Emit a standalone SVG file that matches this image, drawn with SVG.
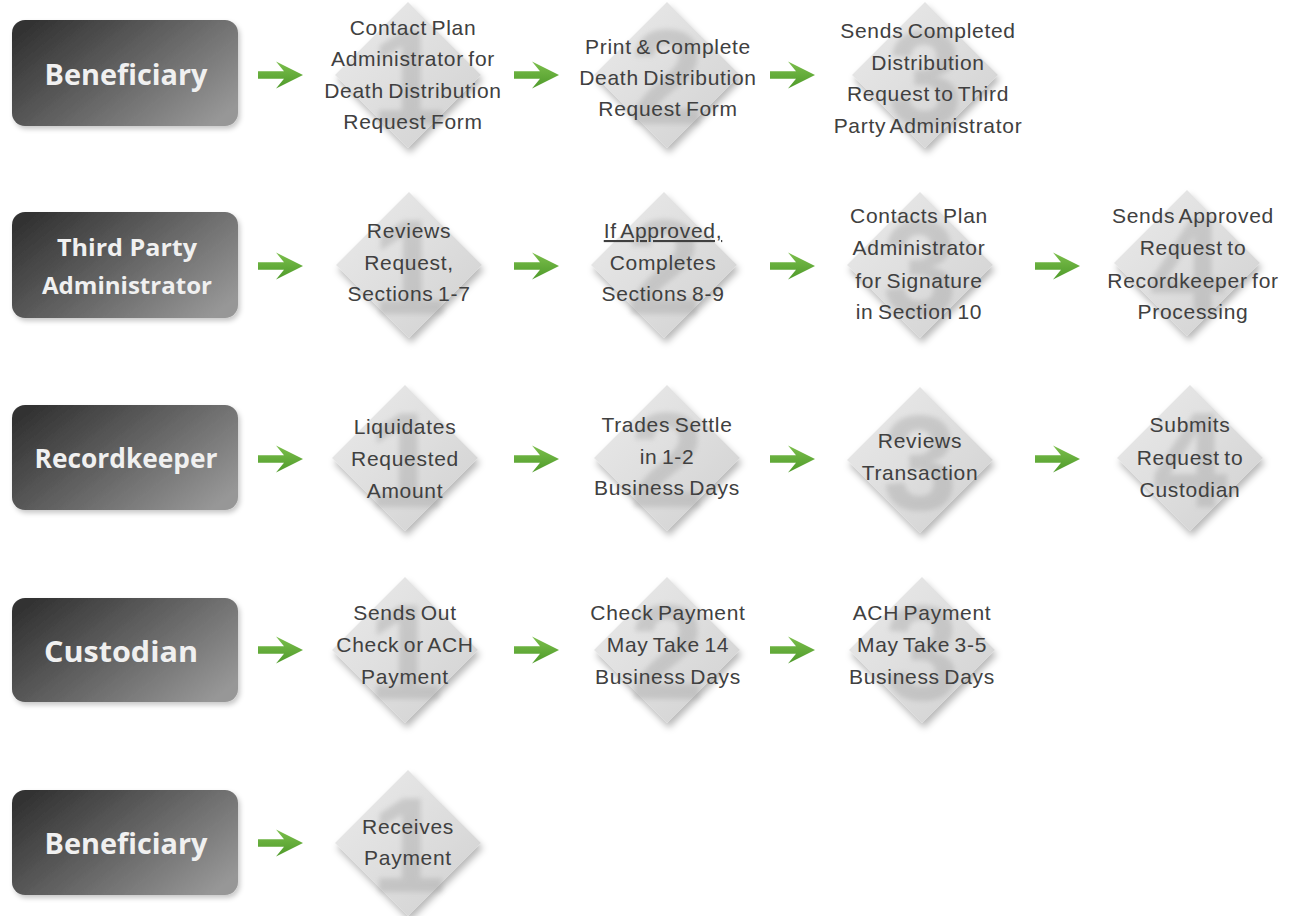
<svg xmlns="http://www.w3.org/2000/svg" xmlns:xlink="http://www.w3.org/1999/xlink" width="1299" height="916" viewBox="0 0 1299 916">
<style>
.box{fill:url(#boxGrad);filter:url(#boxShadow)}
.lbl{font-family:"Open Sans","Liberation Sans",sans-serif;font-weight:700;fill:#f0f0f0;text-anchor:middle}
.dia{fill:url(#diaGrad);filter:url(#diaShadow)}
.num{font-family:"Liberation Sans",sans-serif;font-weight:700;font-size:135px;fill:#a0a0a0;opacity:0.38;text-anchor:middle;filter:url(#numBlur)}
.t{font-family:"Liberation Sans",sans-serif;font-size:21px;fill:#404040;text-anchor:middle;letter-spacing:0.7px;word-spacing:-2px}
.arr{fill:url(#arrGrad)}
</style>
<defs>
<linearGradient id="boxGrad" x1="0" y1="0.2" x2="1" y2="0.8">
<stop offset="0" stop-color="#333333"/>
<stop offset="0.45" stop-color="#606060"/>
<stop offset="1" stop-color="#979797"/>
</linearGradient>
<linearGradient id="diaGrad" x1="0" y1="0" x2="1" y2="1">
<stop offset="0" stop-color="#ebebeb"/>
<stop offset="0.5" stop-color="#dedede"/>
<stop offset="1" stop-color="#d0d0d0"/>
</linearGradient>
<linearGradient id="arrGrad" x1="0" y1="0" x2="0" y2="1">
<stop offset="0" stop-color="#7cbf4c"/>
<stop offset="1" stop-color="#4e9a2a"/>
</linearGradient>
<filter id="boxShadow" x="-10%" y="-10%" width="125%" height="130%">
<feDropShadow dx="2" dy="3" stdDeviation="2.5" flood-color="#000" flood-opacity="0.22"/>
</filter>
<filter id="diaShadow" x="-20%" y="-20%" width="150%" height="150%">
<feDropShadow dx="2" dy="5" stdDeviation="3.5" flood-color="#000" flood-opacity="0.28"/>
</filter>
<filter id="numBlur" x="-20%" y="-20%" width="140%" height="140%">
<feGaussianBlur stdDeviation="2.5"/>
</filter>
<polygon id="arrow" class="arr" points="0,-3.8 26,-3.8 18,-13.5 45,0 18,13.5 26,3.8 0,3.8"/>
<polygon id="diamond" class="dia" points="0,-73 73,0 0,73 -73,0"/>
</defs>
<rect width="1299" height="916" fill="#ffffff"/>

<!-- Lane boxes -->
<g id="lane-beneficiary-1"><rect class="box" x="12" y="20" width="226" height="106" rx="13"/><text class="lbl" x="126" y="85" font-size="28" textLength="163" lengthAdjust="spacingAndGlyphs">Beneficiary</text></g>
<g id="lane-tpa"><rect class="box" x="12" y="212" width="226" height="106" rx="13"/><text class="lbl" x="127" y="256" font-size="24" textLength="140" lengthAdjust="spacingAndGlyphs">Third Party</text><text class="lbl" x="127" y="294" font-size="24" textLength="170" lengthAdjust="spacingAndGlyphs">Administrator</text></g>
<g id="lane-recordkeeper"><rect class="box" x="12" y="405" width="226" height="105" rx="13"/><text class="lbl" x="126" y="468" font-size="26" textLength="183" lengthAdjust="spacingAndGlyphs">Recordkeeper</text></g>
<g id="lane-custodian"><rect class="box" x="12" y="598" width="226" height="104" rx="13"/><text class="lbl" x="121" y="662" font-size="28" textLength="154" lengthAdjust="spacingAndGlyphs">Custodian</text></g>
<g id="lane-beneficiary-2"><rect class="box" x="12" y="790" width="226" height="105" rx="13"/><text class="lbl" x="126" y="854" font-size="28" textLength="163" lengthAdjust="spacingAndGlyphs">Beneficiary</text></g>

<!-- Connectors -->
<g id="connectors">
<use href="#arrow" x="258" y="75"/>
<use href="#arrow" x="514" y="75"/>
<use href="#arrow" x="770" y="75"/>
<use href="#arrow" x="258" y="266"/>
<use href="#arrow" x="514" y="266"/>
<use href="#arrow" x="770" y="266"/>
<use href="#arrow" x="1035" y="266"/>
<use href="#arrow" x="258" y="459"/>
<use href="#arrow" x="514" y="459"/>
<use href="#arrow" x="770" y="459"/>
<use href="#arrow" x="1035" y="459"/>
<use href="#arrow" x="258" y="650"/>
<use href="#arrow" x="514" y="650"/>
<use href="#arrow" x="770" y="650"/>
<use href="#arrow" x="258" y="843"/>
</g>

<!-- Row 1 -->
<g id="r1-s1"><use href="#diamond" x="408" y="75"/><text class="num" x="408" y="124">1</text>
<text class="t" x="413" y="35">Contact Plan</text><text class="t" x="413" y="66">Administrator for</text><text class="t" x="413" y="98">Death Distribution</text><text class="t" x="413" y="129">Request Form</text></g>
<g id="r1-s2"><use href="#diamond" x="667" y="75"/><text class="num" x="667" y="124">2</text>
<text class="t" x="668" y="54">Print &amp; Complete</text><text class="t" x="668" y="85">Death Distribution</text><text class="t" x="668" y="116">Request Form</text></g>
<g id="r1-s3"><use href="#diamond" x="925" y="75"/><text class="num" x="925" y="124">3</text>
<text class="t" x="928" y="38">Sends Completed</text><text class="t" x="928" y="70">Distribution</text><text class="t" x="928" y="101">Request to Third</text><text class="t" x="928" y="133">Party Administrator</text></g>

<!-- Row 2 -->
<g id="r2-s1"><use href="#diamond" x="409" y="265"/><text class="num" x="409" y="314">1</text>
<text class="t" x="409" y="238">Reviews</text><text class="t" x="409" y="270">Request,</text><text class="t" x="409" y="301">Sections 1-7</text></g>
<g id="r2-s2"><use href="#diamond" x="664" y="265"/><text class="num" x="664" y="314">2</text>
<text class="t" x="663" y="238" text-decoration="underline">If Approved,</text><text class="t" x="663" y="270">Completes</text><text class="t" x="663" y="301">Sections 8-9</text></g>
<g id="r2-s3"><use href="#diamond" x="920" y="265"/><text class="num" x="920" y="314">3</text>
<text class="t" x="919" y="223">Contacts Plan</text><text class="t" x="919" y="255">Administrator</text><text class="t" x="919" y="288">for Signature</text><text class="t" x="919" y="319">in Section 10</text></g>
<g id="r2-s4"><use href="#diamond" x="1187" y="263"/><text class="num" x="1187" y="312">4</text>
<text class="t" x="1193" y="223">Sends Approved</text><text class="t" x="1193" y="255">Request to</text><text class="t" x="1193" y="288">Recordkeeper for</text><text class="t" x="1193" y="319">Processing</text></g>

<!-- Row 3 -->
<g id="r3-s1"><use href="#diamond" x="405" y="458"/><text class="num" x="405" y="507">1</text>
<text class="t" x="405" y="434">Liquidates</text><text class="t" x="405" y="466">Requested</text><text class="t" x="405" y="498">Amount</text></g>
<g id="r3-s2"><use href="#diamond" x="667" y="458"/><text class="num" x="667" y="507">2</text>
<text class="t" x="667" y="432">Trades Settle</text><text class="t" x="667" y="464">in 1-2</text><text class="t" x="667" y="495">Business Days</text></g>
<g id="r3-s3"><use href="#diamond" x="920" y="460"/><text class="num" x="920" y="509">3</text>
<text class="t" x="920" y="448">Reviews</text><text class="t" x="920" y="480">Transaction</text></g>
<g id="r3-s4"><use href="#diamond" x="1190" y="458"/><text class="num" x="1190" y="507">4</text>
<text class="t" x="1190" y="432">Submits</text><text class="t" x="1190" y="465">Request to</text><text class="t" x="1190" y="497">Custodian</text></g>

<!-- Row 4 -->
<g id="r4-s1"><use href="#diamond" x="405" y="650"/><text class="num" x="405" y="699">1</text>
<text class="t" x="405" y="620">Sends Out</text><text class="t" x="405" y="652">Check or ACH</text><text class="t" x="405" y="684">Payment</text></g>
<g id="r4-s2"><use href="#diamond" x="667" y="650"/><text class="num" x="667" y="699">2</text>
<text class="t" x="668" y="620">Check Payment</text><text class="t" x="668" y="652">May Take 14</text><text class="t" x="668" y="684">Business Days</text></g>
<g id="r4-s3"><use href="#diamond" x="922" y="650"/><text class="num" x="922" y="699">3</text>
<text class="t" x="922" y="620">ACH Payment</text><text class="t" x="922" y="652">May Take 3-5</text><text class="t" x="922" y="684">Business Days</text></g>

<!-- Row 5 -->
<g id="r5-s1"><use href="#diamond" x="408" y="843"/><text class="num" x="408" y="892">1</text>
<text class="t" x="408" y="834">Receives</text><text class="t" x="408" y="865">Payment</text></g>
</svg>
